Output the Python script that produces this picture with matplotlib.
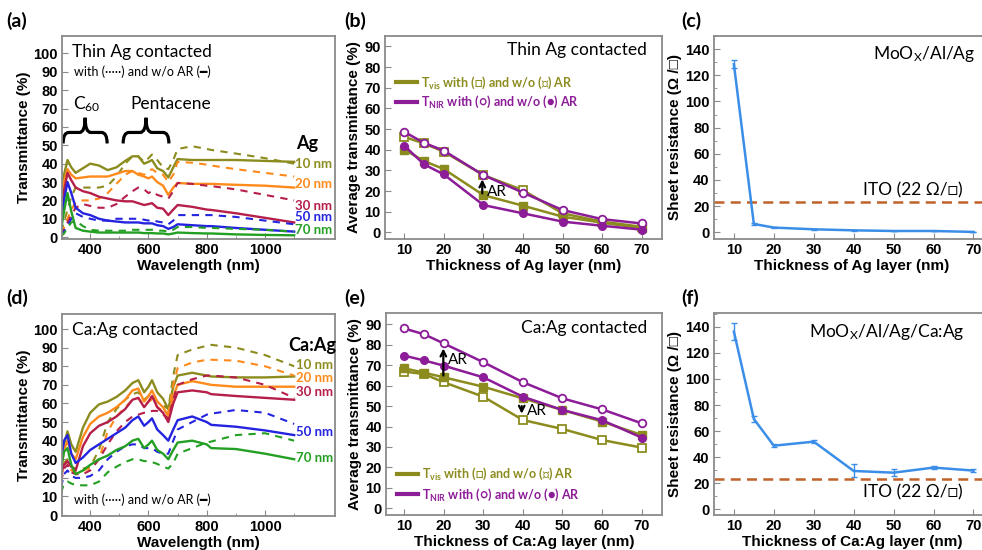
import matplotlib
matplotlib.use('Agg')
import matplotlib.pyplot as plt
from matplotlib.path import Path
from matplotlib.patches import PathPatch
from matplotlib.lines import Line2D
from matplotlib.ticker import MultipleLocator, FixedLocator

plt.rcParams['font.family'] = ['Liberation Sans', 'DejaVu Sans']
plt.rcParams['mathtext.default'] = 'regular'

# ---------------- data ----------------
wl = [300, 310, 322, 335, 350, 375, 400, 430, 460, 490, 520, 545, 565, 585, 600, 612,
      630, 650, 668, 685, 700, 750, 800, 815, 900, 1000, 1100]
thick_labels = ['10 nm', '20 nm', '30 nm', '50 nm', '70 nm']

# (a) thin Ag contacted, without AR (solid) / with AR (dashed)
a_solid = [
    [20, 34, 42, 38, 35, 37.5, 40, 39, 36.5, 38, 41.5, 44, 44, 40, 41, 42, 37.5, 36, 32.5, 38, 42.5, 42, 42, 42, 42, 41.5, 41],
    [18, 30, 37, 34, 32, 32.5, 33, 33, 33, 34.5, 36, 36, 34, 33, 32, 33, 30, 28, 23, 27, 29.5, 29, 29, 29, 28.5, 28, 27],
    [12, 25, 35, 31, 27, 25, 24, 22, 21, 20, 19.5, 19.5, 18.5, 17.5, 18, 18.5, 16, 15.5, 12, 15, 17.5, 16.5, 15, 14.8, 13, 10.5, 8],
    [8, 20, 30, 24, 16, 13, 12, 10, 9, 8.5, 8, 8, 8, 7.5, 7.5, 7.5, 6.5, 6, 4.5, 5.5, 7, 6.5, 6, 6, 5, 4, 3],
    [4, 14, 24, 14, 5, 3.5, 3, 2.5, 2.5, 2.5, 2.5, 2.5, 2.5, 2.2, 2.2, 2.2, 2, 2, 1.5, 2, 2.5, 2.2, 2, 2, 1.5, 1.2, 1],
]
a_dash = [
    [3, 8, 15, 22, 27, 27, 27, 27, 28, 33, 40, 44, 44, 41, 43, 45, 42, 38, 37, 42, 48, 49.5, 48, 47.5, 45.5, 43, 40],
    [2, 5, 10, 15, 19, 20, 20, 21, 24, 29, 34, 36, 35, 34, 36, 37, 35, 34, 30, 34, 41, 40.5, 39.5, 39, 37, 35, 33],
    [1, 4, 8, 12, 16, 18, 17, 16, 16, 18, 22, 25, 27, 26, 24, 25, 23, 22, 21, 25, 29.5, 29, 28, 27.8, 26, 23, 20],
    [1, 3, 6, 10, 13, 11, 10, 9, 9, 10, 10, 10, 10, 9.5, 9, 9.5, 8.5, 8, 7, 9, 12, 12, 12, 12, 11, 9, 7],
    [0.5, 2, 5, 8, 9, 6, 4, 3.5, 3.5, 3.5, 3.5, 4, 4, 4, 4, 4, 3.5, 3.5, 3, 4, 5.5, 5.5, 5, 5, 4.5, 4, 3],
]

# (d) Ca:Ag contacted
d_solid = [
    [25, 38, 45, 38, 34, 47, 55, 59.5, 61, 63.5, 67, 71, 72.5, 66, 69, 72.5, 66, 62.5, 57, 69, 75, 76.5, 75, 74.5, 74, 74, 74.5],
    [24, 35, 40, 33, 30, 42, 49, 53, 55, 58, 62, 67, 68, 61, 64, 67, 61, 58, 53, 64, 70, 72, 70.5, 70, 69, 69, 69],
    [22, 27, 29, 26, 24, 37, 44, 48, 50, 53, 57, 62, 63, 58, 61, 64, 58, 55, 50, 60, 66, 67, 66, 65, 64, 63, 62],
    [30, 40, 43, 33, 28, 31, 35, 38, 41, 44, 47, 51, 53, 48, 50, 52, 46, 43, 40, 46, 51, 53, 50, 48.5, 47.5, 45.5, 43],
    [25, 34, 36, 27, 22, 24, 27, 30, 32, 35, 37, 40, 41, 36, 38, 40, 35, 33, 30, 35, 39, 40, 38, 36, 35.5, 33, 30],
]
d_dash = [
    [20, 28, 30, 26, 25, 25, 26, 35, 50, 57, 62, 65, 66, 62, 64, 65, 61, 59, 57, 75, 86, 89, 91, 91.5, 90, 86, 80],
    [20, 27, 29, 24, 23, 24, 25, 30, 45, 53, 58, 62, 63, 59, 61, 62, 58, 56, 55, 70, 79, 82, 83.5, 83.5, 83, 80, 75],
    [18, 25, 27, 23, 22, 22, 24, 30, 38, 45, 50, 53, 54, 55, 55, 56, 56, 54, 52, 62, 70, 73, 75, 75, 74, 70, 63],
    [15, 22, 24, 21, 20, 20, 21, 24, 30, 34, 37, 38, 38, 36, 36, 36, 34, 33, 33, 40, 46, 50, 54, 54.5, 56.5, 55, 49],
    [12, 17, 18, 17, 16, 16, 16, 18, 23, 26, 28.5, 30, 30, 29, 29, 28.5, 27.5, 26, 25, 28, 33, 36, 39, 39.5, 43, 44, 40],
]

thick = [10, 15, 20, 30, 40, 50, 60, 70]
# (b) thin Ag
b_vis_ar = [46.2, 43, 39, 27.7, 20.4, 9.2, 5.2, 2.7]
b_vis = [40, 34.5, 30.6, 18, 12.9, 7.6, 4.7, 2]
b_nir_ar = [48.6, 43.3, 39.5, 27.7, 19.2, 10.8, 6.4, 4.3]
b_nir = [41.9, 32.9, 28, 13.2, 9.2, 5.2, 3.2, 1.3]
# (e) Ca:Ag
e_vis_ar = [66.9, 65.7, 61.7, 54.6, 43.2, 38.8, 33.4, 29.7]
e_vis = [68.5, 66.4, 64.1, 59.5, 53.8, 48.1, 42.4, 35.9]
e_nir_ar = [88, 85.2, 80.7, 71.5, 61.7, 53.8, 48.4, 41.6]
e_nir = [74.7, 72.4, 69.8, 64.1, 54.6, 48.1, 43.1, 34.6]
# (c), (f) sheet resistance
rs_ag = [128.5, 6.4, 3.6, 2.3, 1.5, 1.0, 1.0, 0.3]
rs_ag_err = [3, 0.5, 0.3, 0.3, 0.2, 0.2, 0.2, 0.2]
rs_caag = [136.4, 69.3, 48.8, 51.9, 29.4, 28.1, 32, 29.7]
rs_caag_err = [6.3, 2, 1, 1, 5, 2.5, 1, 1]
ito = 23.5

# ---------------- style ----------------
spec_colors = ['#8c8c1e', '#ff8a1c', '#b51f4a', '#2424e0', '#23a023']
olive = '#8c8c1e'
purple = '#8c1c98'
rs_blue = '#3b8ee8'
ito_col = '#c0622a'
frame = '#8a8a8a'
LATO = ['Lato', 'DejaVu Sans']

fig = plt.figure(figsize=(9.82, 5.5), dpi=100)
ax_a = fig.add_axes([0.0631, 0.5655, 0.278, 0.369])
ax_b = fig.add_axes([0.392, 0.5655, 0.282, 0.369])
ax_c = fig.add_axes([0.727, 0.5655, 0.281, 0.369])
ax_d = fig.add_axes([0.0631, 0.0618, 0.278, 0.367])
ax_e = fig.add_axes([0.393, 0.0636, 0.281, 0.367])
ax_f = fig.add_axes([0.727, 0.0636, 0.281, 0.367])


def style(ax):
    for s in ax.spines.values():
        s.set_color(frame)
        s.set_linewidth(1.3)
    ax.tick_params(which='both', direction='in', color=frame, labelsize=10.5, pad=3)
    ax.tick_params(which='major', length=4)
    ax.tick_params(which='minor', length=2.5)
    for lab in ax.get_xticklabels() + ax.get_yticklabels():
        lab.set_fontweight('bold')


def brace(ax, x0, x1, yb, ym, yt):
    xc = (x0 + x1) / 2
    q = (x1 - x0) * 0.13
    verts = [(x0, yb), (x0, ym), (x0 + q, ym), (xc - q, ym), (xc, ym), (xc, yt),
             (xc, ym), (xc + q, ym), (x1 - q, ym), (x1, ym), (x1, yb)]
    codes = [Path.MOVETO, Path.CURVE3, Path.CURVE3, Path.LINETO, Path.CURVE3, Path.CURVE3,
             Path.CURVE3, Path.CURVE3, Path.LINETO, Path.CURVE3, Path.CURVE3]
    ax.add_patch(PathPatch(Path(verts, codes), fill=False, lw=2.3, color='black'))


# ---- (a) and (d): spectra ----
for ax, solid, dash in [(ax_a, a_solid, a_dash), (ax_d, d_solid, d_dash)]:
    for c, s, d in zip(spec_colors, solid, dash):
        ax.plot(wl, d, color=c, lw=1.5, ls=(0, (3.5, 3)))
        ax.plot(wl, s, color=c, lw=1.7)
    ax.set_xlim(303, 1240)
    ax.xaxis.set_major_locator(FixedLocator([400, 600, 800, 1000]))
    ax.xaxis.set_minor_locator(FixedLocator([300, 500, 700, 900, 1100]))
    ax.set_yticks(range(0, 101, 10))
    ax.set_xlabel('Wavelength (nm)', fontsize=11, fontweight='bold', labelpad=1)
    ax.set_ylabel('Transmittance (%)', fontsize=11, fontweight='bold', labelpad=2)
    style(ax)
ax_a.set_ylim(-1, 109.5)
ax_d.set_ylim(-0.5, 108)

ar_note = 'with (·····) and w/o AR (━)'
ax_a.text(0.037, 0.92, 'Thin Ag contacted', transform=ax_a.transAxes, fontsize=12.5,
          family=LATO, va='center')
ax_a.text(0.044, 0.823, ar_note, transform=ax_a.transAxes,
          fontsize=9, family=LATO, va='center')
brace(ax_a, 307, 458, 51, 57, 65)
brace(ax_a, 513, 670, 51, 57, 65)
ax_a.text(0.092, 0.665, 'C$_{60}$', transform=ax_a.transAxes, fontsize=12.5, family=LATO,
          ha='center', va='center')
ax_a.text(0.40, 0.665, 'Pentacene', transform=ax_a.transAxes, fontsize=12.5, family=LATO,
          ha='center', va='center')
ax_a.text(1108, 51, 'Ag', fontsize=13, fontweight='bold', family=LATO, va='center')
for lab, c, y in zip(thick_labels, spec_colors, [40, 29, 17, 11, 4]):
    ax_a.text(1103, y, lab, color=c, fontsize=9.5, fontweight='bold', family=LATO, va='center')

ax_d.text(0.037, 0.921, 'Ca:Ag contacted', transform=ax_d.transAxes, fontsize=12.5,
          family=LATO, va='center')
ax_d.text(0.044, 0.079, ar_note, transform=ax_d.transAxes,
          fontsize=9, family=LATO, va='center')
ax_d.text(1078, 91.4, 'Ca:Ag', fontsize=13, fontweight='bold', family=LATO, va='center')
for lab, c, y in zip(thick_labels, spec_colors, [80.6, 73.6, 66, 44.6, 30.6]):
    ax_d.text(1105, y, lab, color=c, fontsize=9.5, fontweight='bold', family=LATO, va='center')

# ---- (b) and (e): average transmittance ----
leg_labels = ['T$_{vis}$ with (□) and w/o (■) AR', 'T$_{NIR}$ with (○) and w/o (●) AR']
for ax, vis_ar, vis, nir_ar, nir in [(ax_b, b_vis_ar, b_vis, b_nir_ar, b_nir),
                                     (ax_e, e_vis_ar, e_vis, e_nir_ar, e_nir)]:
    ax.plot(thick, vis_ar, color=olive, lw=1.8, marker='s', ms=5.5, mfc='white', mew=1.3)
    ax.plot(thick, vis, color=olive, lw=1.8, marker='s', ms=5.5)
    ax.plot(thick, nir_ar, color=purple, lw=1.8, marker='o', ms=5.5, mfc='white', mew=1.3)
    ax.plot(thick, nir, color=purple, lw=1.8, marker='o', ms=5.5)
    ax.set_xticks(range(10, 71, 10))
    ax.set_yticks(range(0, 91, 10))
    ax.set_ylabel('Average transmittance (%)', fontsize=11, fontweight='bold', labelpad=2)
    style(ax)
ax_b.set_xlim(5.1, 75.1)
ax_b.set_ylim(-3.2, 95)
ax_e.set_xlim(5.4, 75.1)
ax_e.set_ylim(-3.3, 95.5)
ax_b.set_xlabel('Thickness of Ag layer (nm)', fontsize=11, fontweight='bold', labelpad=1)
ax_e.set_xlabel('Thickness of Ca:Ag layer (nm)', fontsize=11, fontweight='bold', labelpad=1)

handles = [Line2D([], [], color=olive, lw=3), Line2D([], [], color=purple, lw=3)]
for ax, anchor, loc, sp in [(ax_b, (0.04, 0.81), 'upper left', 0.25),
                            (ax_e, (0.04, 0.06), 'lower left', 0.35)]:
    ax.legend(handles, leg_labels, loc=loc, bbox_to_anchor=anchor, frameon=False,
              borderpad=0, borderaxespad=0, handlelength=1.7, handletextpad=0.3,
              labelspacing=sp, labelcolor=[olive, purple],
              prop={'family': 'Lato', 'weight': 'bold', 'size': 9})

ax_b.text(0.946, 0.931, 'Thin Ag contacted', transform=ax_b.transAxes, fontsize=12.5,
          family=LATO, ha='right', va='center')
arrow = dict(arrowstyle='->', color='black', lw=1.6, mutation_scale=10)
ax_b.annotate('', xy=(29.7, 27), xytext=(29.7, 17.5), arrowprops=arrow)
ax_b.text(30.8, 19.6, 'AR', fontsize=11, family=LATO, va='center')

ax_e.text(0.946, 0.926, 'Ca:Ag contacted', transform=ax_e.transAxes, fontsize=12.5,
          family=LATO, ha='right', va='center')
ax_e.annotate('', xy=(19.9, 79.6), xytext=(19.9, 63.6), arrowprops=arrow)
ax_e.text(21, 72.6, 'AR', fontsize=11, family=LATO, va='center')
ax_e.annotate('', xy=(39.7, 44.9), xytext=(39.7, 51.4), arrowprops=arrow)
ax_e.text(40.9, 47.6, 'AR', fontsize=11, family=LATO, va='center')

# ---- (c) and (f): sheet resistance ----
for ax, rs, err in [(ax_c, rs_ag, rs_ag_err), (ax_f, rs_caag, rs_caag_err)]:
    ax.errorbar(thick, rs, yerr=err, color=rs_blue, lw=1.8, elinewidth=1, capsize=2, capthick=1)
    ax.axhline(ito, color=ito_col, lw=1.8, ls=(0, (4, 2.5)))
    ax.set_xlim(5, 74.1)
    ax.set_xticks(range(10, 71, 10))
    ax.yaxis.set_major_locator(MultipleLocator(20))
    ax.yaxis.set_minor_locator(MultipleLocator(10))
    ax.set_ylabel('Sheet resistance (Ω /□)', fontsize=11, fontweight='bold', labelpad=2)
    style(ax)
ax_c.set_ylim(-5.1, 150)
ax_f.set_ylim(-4.4, 150.5)
ax_c.set_xlabel('Thickness of Ag layer (nm)', fontsize=11, fontweight='bold', labelpad=1)
ax_f.set_xlabel('Thickness of Ca:Ag layer (nm)', fontsize=11, fontweight='bold', labelpad=1)

ax_c.text(0.946, 0.911, 'MoO$_X$/Al/Ag', transform=ax_c.transAxes, fontsize=12.5,
          family=LATO, ha='right', va='center')
ax_c.text(0.54, 0.241, 'ITO (22 Ω/□)', transform=ax_c.transAxes, fontsize=12.5,
          family=LATO, va='center')
ax_f.text(0.909, 0.906, 'MoO$_X$/Al/Ag/Ca:Ag', transform=ax_f.transAxes, fontsize=12.5,
          family=LATO, ha='right', va='center')
ax_f.text(0.54, 0.114, 'ITO (22 Ω/□)', transform=ax_f.transAxes, fontsize=12.5,
          family=LATO, va='center')

# panel letters
for lab, x, y in [('(a)', 0.006, 0.962), ('(b)', 0.351, 0.962), ('(c)', 0.694, 0.962),
                  ('(d)', 0.006, 0.458), ('(e)', 0.351, 0.458), ('(f)', 0.694, 0.458)]:
    fig.text(x, y, lab, fontsize=14, fontweight='bold', family=LATO, va='center')

fig.savefig('out.png', dpi=100)
